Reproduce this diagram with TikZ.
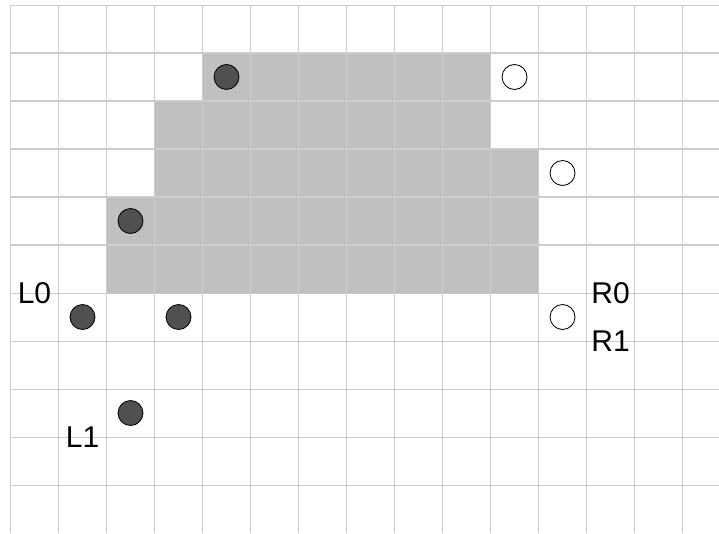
\documentclass[tikz,border=0pt]{standalone}
\usepackage{fontspec}
\setmainfont{Liberation Sans}
\usepackage{tikz}
\definecolor{gridgray}{HTML}{CCCCCC}
\definecolor{areagray}{HTML}{C0C0C0}
\definecolor{dotdark}{HTML}{505050}

\begin{document}
\begin{tikzpicture}[
    gridline/.style={draw=gridgray, line width=0.6pt},
    area/.style={fill=areagray},
    fullpt/.style={
      circle,
      draw=black,
      line width=0.5pt,
      fill=dotdark,
      inner sep=0pt,
      minimum size=0.52cm
    },
    emptypt/.style={fullpt, fill=white},
    tag/.style={font=\fontsize{17.8}{20}\selectfont, inner sep=0pt}
  ]
    \useasboundingbox (-0.21875,0.104) rectangle (14.76,-11);
    \clip (-0.21875,0.104) rectangle (14.76,-11);

    % shaded region
    \fill[area] (4,-1) -- (10,-1) -- (10,-3) -- (11,-3) -- (11,-6) -- (2,-6)
      -- (2,-4) -- (3,-4) -- (3,-2) -- (4,-2) -- cycle;
    \draw[gridline] (0,-10.99) grid (14.9,0);

    \node[fullpt] (top) at (4.5,-1.5) {};
    \node[fullpt] (step) at (2.5,-4.5) {};
    \node[fullpt] (left) at (1.5,-6.5) {};
    \node[fullpt] (mid) at (3.5,-6.5) {};
    \node[fullpt] (low) at (2.5,-8.5) {};
    \node[emptypt] (otop) at (10.5,-1.5) {};
    \node[emptypt] (ostep) at (11.5,-3.5) {};
    \node[emptypt] (oright) at (11.5,-6.5) {};

    \node[tag] (l0) at (0.5,-6) {L0};
    \node[tag] (l1) at (1.5,-9) {L1};
    \node[tag] (r0) at (12.5,-6) {R0};
    \node[tag] (r1) at (12.5,-7) {R1};
  \end{tikzpicture}
\end{document}
